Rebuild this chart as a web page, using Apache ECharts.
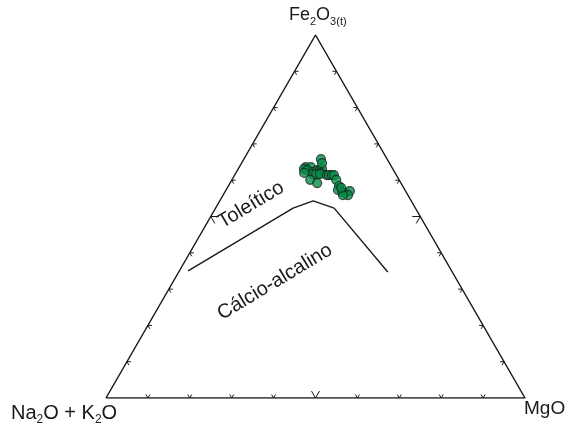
<!DOCTYPE html>
<html>
<head>
<meta charset="utf-8">
<script src="https://cdn.jsdelivr.net/npm/echarts@6/dist/echarts.min.js"></script>
<style>
  html, body { margin: 0; padding: 0; background: #fff; }
  #chart { width: 567px; height: 425px; }
</style>
</head>
<body>
<div id="chart"></div>
<script>
// AFM ternary diagram: A = Na2O + K2O, F = Fe2O3(t), M = MgO (wt % normalised to 100)

// Sample compositions (F and M in %, A is the remainder)
const sampleF = [65.8, 63.6, 63.6, 63.1, 62.8, 62.3, 62.8, 62.5, 63.1, 62.0,
                 62.0, 61.7, 61.7, 61.7, 61.4, 61.4, 61.4, 61.4, 60.1, 60.1,
                 59.2, 58.4, 57.3, 56.8, 56.5, 57.0, 55.9, 55.9, 57.9, 64.7];
const sampleM = [18.4, 15.9, 17.1, 15.7, 16.6, 18.3, 19.0, 19.6, 20.0, 20.3,
                 16.3, 18.6, 19.3, 20.2, 22.0, 22.5, 23.2, 23.7, 24.9, 18.7,
                 20.8, 26.4, 26.7, 28.0, 28.8, 29.7, 29.8, 28.6, 27.2, 19.2];

// Tholeiitic / calc-alkaline boundary (F and M in %)
const boundaryF = [35.0, 52.3, 54.3, 52.3, 34.7];
const boundaryM = [2.1, 18.5, 22.3, 28.3, 49.9];

// Tick positions along each side (%)
const tickValues = [10, 20, 30, 40, 50, 60, 70, 80, 90];

const H = Math.sqrt(3) / 2;
// ternary (F, M) -> cartesian plotting units
function toXY(F, M) { return [M + F / 2, F * H]; }

const samples = sampleF.map((f, i) => toXY(f, sampleM[i]));
const boundary = boundaryF.map((f, i) => toXY(f, boundaryM[i]));
const outline = [toXY(0, 0), toXY(0, 100), toXY(100, 0), toXY(0, 0)];

// tick items: [x, y, side, value]; side 0 = base, 1 = left, 2 = right
const tickData = [];
tickValues.forEach(t => {
  const b = toXY(0, t);   tickData.push([b[0], b[1], 0, t]);
  const l = toXY(t, 0);   tickData.push([l[0], l[1], 1, t]);
  const r = toXY(t, 100 - t); tickData.push([r[0], r[1], 2, t]);
});
const tickDirs = [
  [[-0.5, -H], [0.5, -H]],
  [[1, 0], [0.5, H]],
  [[-1, 0], [-0.5, H]]
];

const chart = echarts.init(document.getElementById('chart'));
const FONT = 'Liberation Sans, Arial, sans-serif';
const INK = '#1a1a1a';

function formulaRich(size, subSize) {
  return {
    m: { fontFamily: FONT, fontSize: size, fill: INK, lineHeight: 24, verticalAlign: 'bottom' },
    s: { fontFamily: FONT, fontSize: subSize, fill: INK, lineHeight: 24, verticalAlign: 'bottom', padding: [0, 0, -3, 0] }
  };
}

chart.setOption({
  animation: false,
  backgroundColor: '#ffffff',
  grid: { left: 106, top: 35, width: 419, height: 363 },
  xAxis: { type: 'value', min: 0, max: 100, show: false },
  yAxis: { type: 'value', min: 0, max: 100 * H, show: false },
  series: [
    {
      type: 'line', data: outline, symbol: 'none', silent: true,
      lineStyle: { color: INK, width: 1.5 }
    },
    {
      type: 'custom', data: tickData, silent: true,
      renderItem: function (params, api) {
        const p = api.coord([api.value(0), api.value(1)]);
        const side = api.value(2);
        const len = api.value(3) === 50 ? 8 : 4;
        const children = tickDirs[side].map(d => ({
          type: 'line',
          shape: { x1: p[0], y1: p[1], x2: p[0] + d[0] * len, y2: p[1] + d[1] * len },
          style: { stroke: INK, lineWidth: 1 }
        }));
        return { type: 'group', children: children };
      }
    },
    {
      type: 'line', data: boundary, symbol: 'none', silent: true,
      lineStyle: { color: INK, width: 1.4 }
    },
    {
      type: 'scatter', data: samples, symbol: 'circle', symbolSize: 9,
      itemStyle: { color: '#058f47', borderColor: '#1c2620', borderWidth: 1.2 }
    }
  ],
  graphic: [
    {
      type: 'text', left: 289, top: 6,
      style: { text: '{m|Fe}{s|2}{m|O}{s|3(t)}', rich: formulaRich(18, 11) }
    },
    {
      type: 'text', left: 11, top: 403,
      style: { text: '{m|Na}{s|2}{m|O + K}{s|2}{m|O}', rich: formulaRich(20, 12) }
    },
    {
      type: 'text', left: 524, top: 399,
      style: { text: 'MgO', fontFamily: FONT, fontSize: 19, fill: INK }
    },
    {
      type: 'text', x: 251, y: 205, rotation: 31 * Math.PI / 180,
      style: { text: 'Toleítico', fontFamily: FONT, fontSize: 20, fill: INK, align: 'center', verticalAlign: 'middle' }
    },
    {
      type: 'text', x: 275, y: 282, rotation: 31 * Math.PI / 180,
      style: { text: 'Cálcio-alcalino', fontFamily: FONT, fontSize: 20, fill: INK, align: 'center', verticalAlign: 'middle' }
    }
  ]
});
</script>
</body>
</html>
